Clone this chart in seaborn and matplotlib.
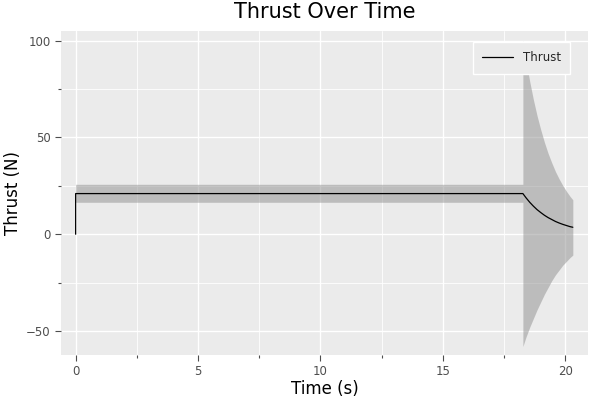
import matplotlib
matplotlib.use("Agg")
import matplotlib.pyplot as plt
import seaborn as sns
import pandas as pd
from matplotlib.ticker import MultipleLocator

# thrust curve
time_s = [0.0, 0.0, 18.27, 18.4, 18.55, 18.7, 18.85, 19.0, 19.15, 19.3,
          19.45, 19.6, 19.75, 19.9, 20.05, 20.2, 20.31]
thrust_n = [0.0, 21.0, 21.0, 18.8, 16.5, 14.5, 12.7, 11.2, 9.8, 8.6,
            7.6, 6.6, 5.8, 5.1, 4.5, 3.9, 3.6]

# uncertainty band
band_time = [0.0, 18.27, 18.27, 18.4, 18.55, 18.7, 18.85, 19.0, 19.15, 19.3,
             19.45, 19.6, 19.75, 19.9, 20.05, 20.2, 20.31]
band_upper = [25.8, 25.8, 100.0, 89.6, 78.9, 69.5, 61.2, 54.0, 47.5, 41.8,
              36.9, 32.4, 28.6, 25.2, 22.2, 19.5, 17.8]
band_lower = [16.5, 16.5, -58.0, -53.0, -48.0, -43.5, -39.0, -35.0, -31.0, -27.5,
              -24.0, -21.0, -18.5, -16.0, -14.0, -12.0, -10.8]

df = pd.DataFrame({"Time (s)": time_s, "Thrust (N)": thrust_n})

sns.set_theme(style="darkgrid", rc={
    "axes.facecolor": "#EBEBEB",
    "grid.color": "white",
    "axes.edgecolor": "none",
})
plt.rcParams["font.family"] = ["DejaVu Sans"]

fig = plt.figure(figsize=(6, 4), dpi=100)
ax = fig.add_axes([0.102, 0.1125, 0.878, 0.81])

ax.fill_between(band_time, band_lower, band_upper, color="#8f8f8f", alpha=0.5,
                linewidth=0, zorder=2)
sns.lineplot(data=df, x="Time (s)", y="Thrust (N)", estimator=None, sort=False,
             color="black", linewidth=0.9, label="Thrust", ax=ax, zorder=3)

ax.set_xlim(-0.59, 20.93)
ax.set_ylim(-62.4, 105.0)
ax.xaxis.set_major_locator(MultipleLocator(5))
ax.xaxis.set_minor_locator(MultipleLocator(2.5))
ax.yaxis.set_major_locator(MultipleLocator(50))
ax.yaxis.set_minor_locator(MultipleLocator(25))
ax.grid(True, which="major", color="white", linewidth=1.0)
ax.grid(True, which="minor", color="white", linewidth=0.6)
ax.set_axisbelow(True)
ax.tick_params(which="major", direction="out", length=4, width=0.8,
               color="#4D4D4D", labelsize=8.5, labelcolor="#4D4D4D",
               bottom=True, left=True)
ax.tick_params(which="minor", direction="out", length=2, width=0.8,
               color="#4D4D4D", bottom=True, left=True)
for s in ax.spines.values():
    s.set_visible(False)

ax.set_title("Thrust Over Time", fontsize=15, pad=9, color="black")
ax.set_xlabel("Time (s)", fontsize=12, labelpad=1, color="black")
ax.set_ylabel("Thrust (N)", fontsize=12, labelpad=3, color="black")

leg = ax.legend(loc="upper right", bbox_to_anchor=(0.966, 0.966), borderaxespad=0,
                fontsize=8.5, frameon=True, fancybox=False,
                borderpad=0.8, handlelength=2.6)
leg.get_frame().set_facecolor("#EBEBEB")
leg.get_frame().set_edgecolor("white")
leg.get_frame().set_alpha(1.0)
leg.get_frame().set_linewidth(1.0)

fig.savefig("out.png", dpi=100)
